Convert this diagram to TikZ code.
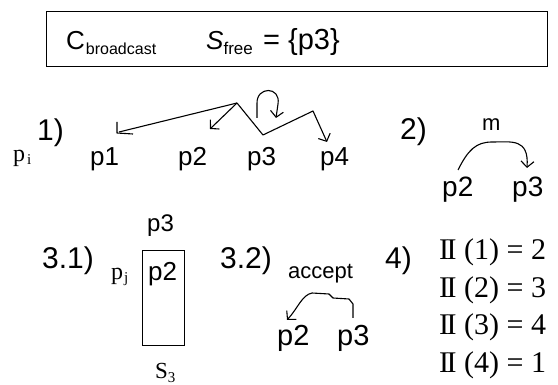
\documentclass[tikz,border=0pt]{standalone}
\usepackage{fontspec}
\setmainfont{Liberation Sans}
\newfontfamily\tms{Liberation Serif}
\usetikzlibrary{arrows.meta}
\newcommand\fs[1]{\fontsize{#1}{#1}\selectfont}
\newcommand\RomII{I\kern-0.085em I}
\begin{document}
\begin{tikzpicture}[x=1pt,y=-1pt,
  txt/.style={inner sep=0pt, anchor=base west},
  ln/.style={line width=1.1pt, line join=round},
  arr/.style={ln, -{Straight Barb[length=6pt,width=13pt,line width=1.1pt]}},
  frame/.style={draw, line width=1.3pt, inner sep=0pt, anchor=north west}]
\useasboundingbox (0,0) rectangle (558,385);

% header box
\node[frame, minimum width=501pt, minimum height=55pt] (hdr) at (45.5,11) {};
\node[txt] (cb) at (66,50) {\fs{26}C\kern1pt\raisebox{-5pt}{\fs{16}broadcast}};
\node[txt] (sf) at (206,50) {\fs{26}\itshape S\raisebox{-5pt}{\fs{17}\upshape free}};
\node[txt] (eq) at (263,50) {\fs{29}= \{p3\}};

% part 1
\node[txt] (pi) at (13,162) {\tms\fs{24}p\kern2pt\raisebox{-3pt}{\fs{15}i}};
\node[txt] (n1) at (37,141) {\fs{30}1)};
\node[txt] (p1) at (90,166) {\fs{26}p1};
\node[txt] (p2) at (178,166) {\fs{26}p2};
\node[txt] (p3) at (247,166) {\fs{26}p3};
\node[txt] (p4) at (320,166) {\fs{26}p4};

\coordinate (P) at (237,103);
\coordinate (e1) at (119,132);
\coordinate (e2) at (210,129);
\coordinate (z1) at (263,135);
\coordinate (z2) at (313,111);
\coordinate (e4) at (327,142);
\coordinate (l0) at (257,118);
\coordinate (l1) at (276,118);
\draw[ln] (P) -- (e1);
\draw[ln] ([shift={(-2,-10)}]e1) -- ([shift={(-2,1)}]e1) -- ([shift={(14,2)}]e1);
\draw[arr] (P) -- (e2);
\draw[arr] (P) -- (z1) -- (z2) -- (e4);
\draw[arr] (l0) -- (257,104) .. controls (256,86) and (281,86) .. (278,104) -- (l1);

% part 2
\node[txt] (n2) at (400,140) {\fs{30}2)};
\node[txt] (m) at (482,131) {\fs{22}m};
\node[txt] (q2) at (442,197) {\fs{28}p2};
\node[txt] (q3) at (512,197) {\fs{28}p3};
\coordinate (c0) at (458,170);
\coordinate (c1) at (527,168);
\draw[arr] (c0) .. controls (468,150) and (476,142) .. (492,142)
  .. controls (512,142) and (529,138) .. (c1);

% part 3.1
\node[txt] (n31) at (42,269) {\fs{30}3.1)};
\node[frame, minimum width=42pt, minimum height=95pt] (sbox) at (142,250) {};
\node[txt] (r3) at (147,232) {\fs{24}p3};
\node[txt] (r2) at (148,281) {\fs{26}p2};
\node[txt] (pj) at (111,280) {\tms\fs{24}p\kern1pt\raisebox{-3pt}{\fs{15}j}};
\node[txt] (s3) at (155,379) {\tms\fs{23}S\raisebox{-4pt}{\fs{15}3}};

% part 3.2
\node[txt] (n32) at (220,269) {\fs{30}3.2)};
\node[txt] (acc) at (288,279) {\fs{22}accept};
\node[txt] (t2) at (277,346) {\fs{29}p2};
\node[txt] (t3) at (337,346) {\fs{29}p3};
\coordinate (a0) at (353,318);
\coordinate (a1) at (287,320);
\draw[arr] (a0) -- (353,304) -- (349,299) -- (333,298) -- (329,294) -- (312,293)
  .. controls (302,295) and (298,308) .. (a1);

% part 4
\node[txt] (n4) at (385,269) {\fs{30}4)};
\node[txt] (m1) at (439,260) {\tms\fs{30}\RomII{} (1) = 2};
\node[txt] (m2) at (439,297.5) {\tms\fs{30}\RomII{} (2) = 3};
\node[txt] (m3) at (439,335) {\tms\fs{30}\RomII{} (3) = 4};
\node[txt] (m4) at (439,373) {\tms\fs{30}\RomII{} (4) = 1};
\end{tikzpicture}
\end{document}
